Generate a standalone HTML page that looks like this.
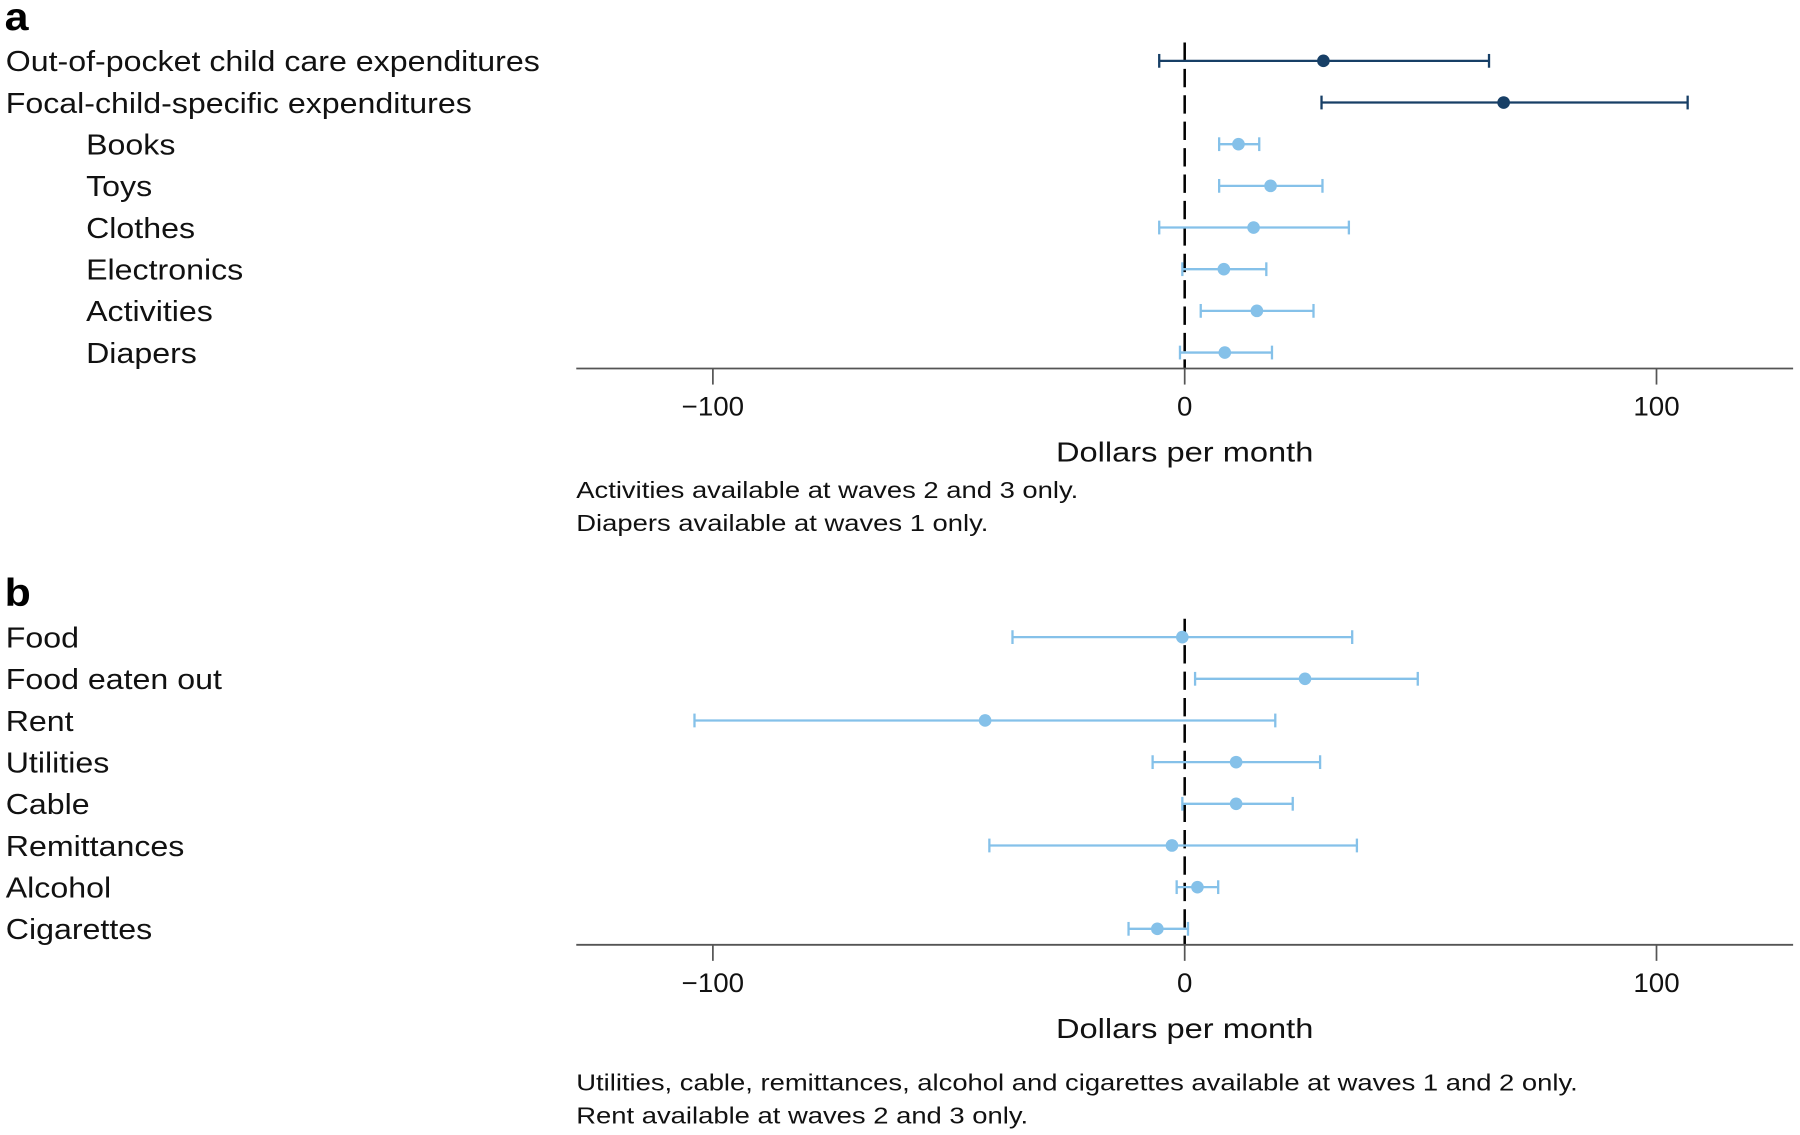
<!DOCTYPE html>
<html><head><meta charset="utf-8"><style>
html,body{margin:0;padding:0;background:#fff;}
svg{display:block;font-family:"Liberation Sans",sans-serif;}
</style></head><body>
<svg id="chart" width="1800" height="1135" viewBox="0 0 1568 988.7" preserveAspectRatio="none" xmlns="http://www.w3.org/2000/svg"></svg>
<script>
const catsA = ["Out-of-pocket child care expenditures","Focal-child-specific expenditures","Books","Toys","Clothes","Electronics","Activities","Diapers"];
const meanA = [29.4,67.6,11.4,18.2,14.6,8.3,15.3,8.5];
const loA = [-5.4,29,7.3,7.3,-5.4,-0.5,3.4,-1];
const hiA = [64.5,106.6,15.8,29.2,34.8,17.3,27.3,18.5];
const indentA = [0,0,1,1,1,1,1,1];
const darkA = [1,1,0,0,0,0,0,0];
const catsB = ["Food","Food eaten out","Rent","Utilities","Cable","Remittances","Alcohol","Cigarettes"];
const meanB = [-0.5,25.5,-42.3,10.9,10.9,-2.7,2.7,-5.8];
const loB = [-36.5,2.2,-103.9,-6.8,-0.5,-41.4,-1.7,-11.9];
const hiB = [35.5,49.4,19.2,28.7,22.9,36.5,7.1,0.7];
const ticks = [-100,0,100];
const tickLabels = ["\u2212100","0","100"];

const svg = document.getElementById('chart');
const NS = "http://www.w3.org/2000/svg";
const x = v => 1032 + v * 4.11;
function mk(tag, attrs, parent){const e=document.createElementNS(NS,tag);for(const k in attrs)e.setAttribute(k,attrs[k]);(parent||svg).appendChild(e);return e;}
function txt(s, attrs, stretch){const t=mk('text',attrs);t.textContent=s;
  if(stretch){const w=t.getComputedTextLength();t.setAttribute('textLength',(w*stretch).toFixed(1));t.setAttribute('lengthAdjust','spacingAndGlyphs');}
  return t;}

function panel(letter, top, cats, mean, lo, hi, indent, dark, notes, noteY){
  const L = txt(letter,{x:4,y:top+26,'font-size':34,'font-weight':'bold',fill:'#000'},1.1);
  
  
  const rowY = i => top + 53 + i*36.3;
  const axisY = top + 321;
  const z = mk('line',{x1:x(0),x2:x(0),y1:top+37,y2:axisY,stroke:'#000','stroke-width':2.2,'stroke-dasharray':'16,7'});
  
  
  const ax = mk('line',{x1:502,x2:1562,y1:axisY,y2:axisY,stroke:'#555','stroke-width':1.6});
  
  
  ticks.forEach((t,i)=>{
    const tk = mk('line',{x1:x(t),x2:x(t),y1:axisY,y2:axisY+14,stroke:'#555','stroke-width':1.5});
    
    
    const tl = txt(tickLabels[i],{x:x(t),y:axisY+41,'font-size':23,'text-anchor':'middle',fill:'#111'},1.05);
    
    
  });
  const at = txt('Dollars per month',{x:x(0),y:axisY+81,'font-size':24.5,'text-anchor':'middle',fill:'#111'},1.16);
  
  
  cats.forEach((c,i)=>{
    const y = rowY(i);
    const lab = txt(c,{x:indent[i]?75:5,y:y+9,'font-size':25,fill:'#111'},1.12);
    
    
    const col = dark[i]?'#173f66':'#85c1e9';
    const ln = mk('line',{x1:x(lo[i]),x2:x(hi[i]),y1:y,y2:y,stroke:col,'stroke-width':2});
    
    
    [lo[i],hi[i]].forEach(v=>{
      const cap = mk('line',{x1:x(v),x2:x(v),y1:y-6,y2:y+6,stroke:col,'stroke-width':2});
      
      
    });
    const pt = mk('circle',{cx:x(mean[i]),cy:y,r:5.5,fill:col});
    
    
  });
  notes.forEach((n,i)=>{
    const nt = txt(n,{x:502,y:noteY+i*28.5,'font-size':20.5,fill:'#111'},1.165);
    
    
  });
}
panel('a',0,catsA,meanA,loA,hiA,indentA,darkA,["Activities available at waves 2 and 3 only.","Diapers available at waves 1 only."],434);
panel('b',502,catsB,meanB,loB,hiB,[0,0,0,0,0,0,0,0],[0,0,0,0,0,0,0,0],["Utilities, cable, remittances, alcohol and cigarettes available at waves 1 and 2 only.","Rent available at waves 2 and 3 only."],950);
</script>
</body></html>
